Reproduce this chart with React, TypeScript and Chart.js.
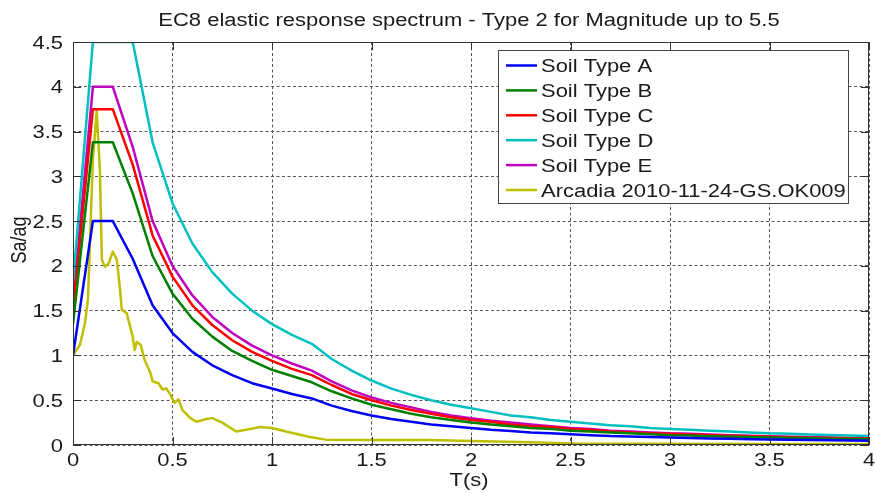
import React, { useEffect, useRef } from "react";
import { Chart, registerables } from "chart.js";

Chart.register(...registerables);

const TITLE = "EC8 elastic response spectrum - Type 2 for Magnitude up to 5.5";
const X_LABEL = "T(s)";
const Y_LABEL = "Sa/ag";

const PERIODS = [
  0, 0.1, 0.2, 0.3, 0.4, 0.5, 0.6, 0.7, 0.8, 0.9,
  1.0, 1.1, 1.2, 1.3, 1.4, 1.5, 1.6, 1.7, 1.8, 1.9,
  2.0, 2.1, 2.2, 2.3, 2.4, 2.5, 2.6, 2.7, 2.8, 2.9,
  3.0, 3.1, 3.2, 3.3, 3.4, 3.5, 3.6, 3.7, 3.8, 3.9,
  4.0,
];

const SOIL_A = [
  1.0, 2.5, 2.5, 2.08, 1.56, 1.25, 1.04, 0.89, 0.78, 0.69,
  0.63, 0.57, 0.52, 0.44, 0.38, 0.33, 0.29, 0.26, 0.23, 0.21,
  0.19, 0.17, 0.155, 0.14, 0.13, 0.12, 0.11, 0.1, 0.096, 0.089,
  0.083, 0.078, 0.073, 0.069, 0.065, 0.061, 0.058, 0.055, 0.052, 0.049,
  0.047,
];
const SOIL_B = [
  1.35, 3.38, 3.38, 2.81, 2.11, 1.69, 1.41, 1.21, 1.05, 0.94,
  0.84, 0.77, 0.7, 0.6, 0.52, 0.45, 0.4, 0.35, 0.31, 0.28,
  0.25, 0.23, 0.21, 0.19, 0.18, 0.16, 0.15, 0.14, 0.13, 0.12,
  0.11, 0.105, 0.099, 0.093, 0.088, 0.083, 0.078, 0.074, 0.07, 0.067,
  0.063,
];
const SOIL_C = [
  1.5, 3.75, 3.75, 3.13, 2.34, 1.88, 1.56, 1.34, 1.17, 1.04,
  0.94, 0.85, 0.78, 0.67, 0.57, 0.5, 0.44, 0.39, 0.35, 0.31,
  0.28, 0.26, 0.23, 0.21, 0.2, 0.18, 0.17, 0.15, 0.14, 0.13,
  0.125, 0.117, 0.11, 0.103, 0.097, 0.092, 0.087, 0.082, 0.078, 0.074,
  0.07,
];
const SOIL_D = [
  1.8, 4.5, 4.5, 4.5, 3.38, 2.7, 2.25, 1.93, 1.69, 1.5,
  1.35, 1.23, 1.13, 0.96, 0.83, 0.72, 0.63, 0.56, 0.5, 0.45,
  0.41, 0.37, 0.33, 0.31, 0.28, 0.26, 0.24, 0.22, 0.21, 0.19,
  0.18, 0.17, 0.16, 0.15, 0.14, 0.13, 0.125, 0.118, 0.112, 0.107,
  0.1,
];
const SOIL_E = [
  1.6, 4.0, 4.0, 3.33, 2.5, 2.0, 1.67, 1.43, 1.25, 1.11,
  1.0, 0.91, 0.83, 0.71, 0.61, 0.53, 0.47, 0.42, 0.37, 0.33,
  0.3, 0.27, 0.25, 0.23, 0.21, 0.19, 0.18, 0.16, 0.15, 0.14,
  0.13, 0.125, 0.117, 0.11, 0.104, 0.098, 0.093, 0.088, 0.083, 0.079,
  0.075,
];

const ARCADIA_T = [
  0, 0.035, 0.06, 0.075, 0.1, 0.119, 0.135, 0.145, 0.16, 0.18,
  0.2, 0.22, 0.236, 0.245, 0.27, 0.3, 0.31, 0.32, 0.34, 0.36,
  0.39, 0.4, 0.43, 0.45, 0.47, 0.49, 0.51, 0.53, 0.55, 0.59,
  0.62, 0.67, 0.7, 0.75, 0.82, 0.87, 0.94, 1.0, 1.07, 1.19,
  1.27, 1.5, 1.8, 2.0, 2.3, 2.55, 3.0, 3.5, 4.0,
];
const ARCADIA_SA = [
  1.0, 1.12, 1.36, 1.62, 3.19, 3.73, 3.08, 2.07, 1.99, 2.03,
  2.16, 2.07, 1.75, 1.51, 1.47, 1.21, 1.06, 1.15, 1.12, 0.95,
  0.8, 0.71, 0.69, 0.62, 0.63, 0.56, 0.47, 0.51, 0.39, 0.3,
  0.26, 0.29, 0.3, 0.25, 0.15, 0.17, 0.2, 0.19, 0.15, 0.09,
  0.06, 0.055, 0.055, 0.045, 0.03, 0.015, 0.015, 0.012, 0.01,
];

const SERIES_NAMES = [
  "Soil Type A",
  "Soil Type B",
  "Soil Type C",
  "Soil Type D",
  "Soil Type E",
  "Arcadia 2010-11-24-GS.OK009",
];
const SERIES_COLORS = ["#0000f5", "#008000", "#ff0000", "#00bfbf", "#bf00bf", "#bfbf00"];

const SX = 1.22;
const FONT = '18px "Liberation Sans", Arial, sans-serif';
const TEXT_COLOR = "#1a1a1a";

function drawText(
  ctx: CanvasRenderingContext2D,
  text: string,
  x: number,
  y: number,
  align: CanvasTextAlign
) {
  ctx.save();
  ctx.translate(x, y);
  ctx.scale(SX, 1);
  ctx.font = FONT;
  ctx.fillStyle = TEXT_COLOR;
  ctx.textAlign = align;
  ctx.textBaseline = "alphabetic";
  ctx.fillText(text, 0, 0);
  ctx.restore();
}

const fmt = (v: number) => String(Math.round(v * 10) / 10);

const decorPlugin = {
  id: "decor",
  afterDatasetsDraw(chart: any) {
    const { ctx, chartArea: a, scales } = chart;
    const xs = scales.x;
    const ys = scales.y;
    ctx.save();

    // inward tick marks
    ctx.strokeStyle = "#333";
    ctx.lineWidth = 1;
    ctx.beginPath();
    xs.ticks.forEach((t: any) => {
      const px = Math.round(xs.getPixelForValue(t.value)) + 0.5;
      ctx.moveTo(px, a.bottom);
      ctx.lineTo(px, a.bottom - 8);
      ctx.moveTo(px, a.top);
      ctx.lineTo(px, a.top + 8);
    });
    ys.ticks.forEach((t: any) => {
      const py = Math.round(ys.getPixelForValue(t.value)) + 0.5;
      ctx.moveTo(a.left, py);
      ctx.lineTo(a.left + 8, py);
      ctx.moveTo(a.right, py);
      ctx.lineTo(a.right - 8, py);
    });
    ctx.stroke();

    // frame
    ctx.strokeStyle = "#333";
    ctx.strokeRect(a.left + 0.5, a.top + 0.5, a.right - a.left - 1, a.bottom - a.top - 1);

    // tick labels
    xs.ticks.forEach((t: any) => {
      drawText(ctx, fmt(t.value), xs.getPixelForValue(t.value), 466, "center");
    });
    ys.ticks.forEach((t: any) => {
      drawText(ctx, fmt(t.value), 63, ys.getPixelForValue(t.value) + 6.5, "right");
    });

    // title and axis labels
    drawText(ctx, TITLE, (a.left + a.right) / 2 - 2, 26, "center");
    drawText(ctx, X_LABEL, (a.left + a.right) / 2 - 2, 486, "center");
    ctx.save();
    ctx.translate(18.5, 240);
    ctx.rotate(-Math.PI / 2);
    ctx.scale(1, SX);
    ctx.font = FONT;
    ctx.fillStyle = TEXT_COLOR;
    ctx.textAlign = "center";
    ctx.textBaseline = "alphabetic";
    ctx.fillText(Y_LABEL, 0, 6);
    ctx.restore();

    // legend box
    const bx = 498, by = 50, bw = 350, bh = 153;
    ctx.fillStyle = "#ffffff";
    ctx.fillRect(bx, by, bw, bh);
    ctx.strokeStyle = "#444";
    ctx.lineWidth = 1;
    ctx.strokeRect(bx + 0.5, by + 0.5, bw, bh);
    chart.data.datasets.forEach((ds: any, i: number) => {
      const cy = 65.5 + i * 24.9;
      ctx.strokeStyle = ds.borderColor;
      ctx.lineWidth = 2.5;
      ctx.beginPath();
      ctx.moveTo(506, cy);
      ctx.lineTo(537, cy);
      ctx.stroke();
      drawText(ctx, ds.label, 541, cy + 6.5, "left");
    });

    ctx.restore();
  },
};

export default function App() {
  const ref = useRef<HTMLCanvasElement | null>(null);

  useEffect(() => {
    if (!ref.current) return;
    const soils = [SOIL_A, SOIL_B, SOIL_C, SOIL_D, SOIL_E];
    const datasets: any[] = soils.map((vals, i) => ({
      label: SERIES_NAMES[i],
      data: PERIODS.map((t, j) => ({ x: t, y: vals[j] })),
      borderColor: SERIES_COLORS[i],
      backgroundColor: SERIES_COLORS[i],
      borderWidth: 2.5,
      pointRadius: 0,
      tension: 0,
      fill: false,
      borderJoinStyle: "round",
    }));
    datasets.push({
      label: SERIES_NAMES[5],
      data: ARCADIA_T.map((t, j) => ({ x: t, y: ARCADIA_SA[j] })),
      borderColor: SERIES_COLORS[5],
      backgroundColor: SERIES_COLORS[5],
      borderWidth: 2.5,
      pointRadius: 0,
      tension: 0,
      fill: false,
      borderJoinStyle: "round",
    });

    const chart = new Chart(ref.current, {
      type: "line",
      data: { datasets },
      options: {
        animation: false,
        responsive: true,
        maintainAspectRatio: false,
        devicePixelRatio: 1,
        layout: { padding: { left: 0, top: 42, right: 6, bottom: 0 } },
        plugins: {
          legend: { display: false },
          title: { display: false },
          tooltip: { enabled: false },
        },
        scales: {
          x: {
            type: "linear",
            min: 0,
            max: 4,
            ticks: { stepSize: 0.5, display: false },
            grid: { color: "#555", lineWidth: 1, drawTicks: false },
            border: { display: false, dash: [3, 2.5] },
            afterFit: (s: any) => {
              s.height = 48;
            },
          },
          y: {
            type: "linear",
            min: 0,
            max: 4.5,
            ticks: { stepSize: 0.5, display: false },
            grid: { color: "#555", lineWidth: 1, drawTicks: false },
            border: { display: false, dash: [3, 2.5] },
            afterFit: (s: any) => {
              s.width = 73;
            },
          },
        },
      } as any,
      plugins: [decorPlugin],
    });
    return () => chart.destroy();
  }, []);

  return (
    <div
      style={{
        position: "fixed",
        left: 0,
        top: 0,
        width: 875,
        height: 493,
        background: "#fff",
      }}
    >
      <canvas ref={ref} />
    </div>
  );
}
